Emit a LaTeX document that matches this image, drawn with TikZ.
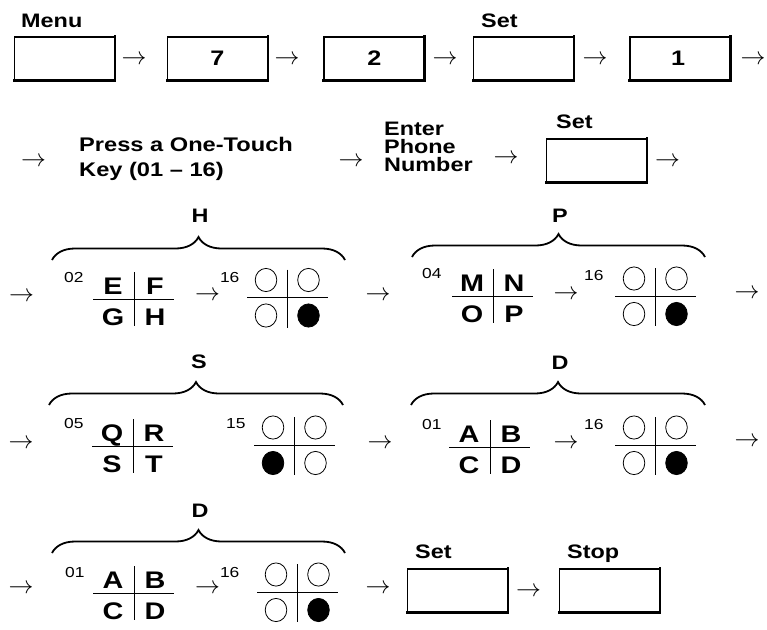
\documentclass[tikz,border=0pt]{standalone}
\usepackage{fontspec}
\setmainfont{Liberation Sans}[FakeStretch=1.2]
\usetikzlibrary{calc,decorations.pathreplacing}

\tikzset{
  lab/.style={inner sep=0pt, font=\fontsize{19.5}{22}\selectfont\bfseries, anchor=base west},
  keytxt/.style={inner sep=0pt, font=\fontsize{21}{24}\selectfont\bfseries, anchor=base},
  supnum/.style={inner sep=0pt, font=\fontsize{14.5}{16}\selectfont, anchor=base west},
  glet/.style={inner sep=0pt, font=\fontsize{24}{26}\selectfont\bfseries, anchor=base},
  arr/.style={inner sep=0pt, font=\fontsize{23.5}{23.5}\selectfont, yshift=-1.5pt},
  keyframe/.style={draw, line width=1.1pt, minimum width=100pt, minimum height=43pt, inner sep=0pt},
  keyedge/.style={line width=2.8pt, line cap=rect},
  gline/.style={line width=0.9pt},
  ring/.style={draw, line width=0.8pt, fill=white},
  dot/.style={draw, line width=0.8pt, fill=black},
  bracestyle/.style={decorate, decoration={brace, amplitude=23pt}, line width=1.8pt},
  bracelab/.style={inner sep=0pt, font=\fontsize{19.5}{22}\selectfont\bfseries, anchor=base},
}

\newcommand\KeyBox[3]{%
  \node[keyframe] (#1) at (#2,#3) {};
  \draw[keyedge] (#1.north east) -- (#1.south east) -- (#1.south west);
}
\newcommand\LGrid[7]{%
  \coordinate (#1) at (#2,#3);
  \draw[gline] ($(#1)+(-41,0)$) -- ($(#1)+(40,0)$);
  \draw[gline] ($(#1)+(0,-27)$) -- ($(#1)+(0,27)$);
  \node[glet] (#1-a) at ($(#1)+(-21,-5)$) {#4};
  \node[glet] (#1-b) at ($(#1)+(21,-5)$) {#5};
  \node[glet] (#1-c) at ($(#1)+(-21,26)$) {#6};
  \node[glet] (#1-d) at ($(#1)+(21,26)$) {#7};
}
\newcommand\CGrid[7]{%
  \coordinate (#1) at (#2,#3);
  \draw[gline] ($(#1)+(-40,0)$) -- ($(#1)+(41,0)$);
  \draw[gline] ($(#1)+(0,-28)$) -- ($(#1)+(0,30)$);
  \draw[#4] ($(#1)+(-21,-17.5)$) ellipse [x radius=10.8pt, y radius=11.6pt];
  \draw[#5] ($(#1)+(21.5,-17.5)$) ellipse [x radius=10.8pt, y radius=11.6pt];
  \draw[#6] ($(#1)+(-21,18)$) ellipse [x radius=10.8pt, y radius=11.6pt];
  \draw[#7] ($(#1)+(21.5,18)$) ellipse [x radius=10.8pt, y radius=11.6pt];
}

\begin{document}
\begin{tikzpicture}[x=1pt,y=-1pt]
\fill[white] (0,0) rectangle (767,629);
\useasboundingbox (0,0) rectangle (767,629);

% ---- Row 1
\node[lab] (menu) at (21,27) {Menu};
\KeyBox{k1}{64.5}{58.5}
\node[arr] (a11) at (134,58) {$\rightarrow$};
\KeyBox{k2}{217.5}{58.5}
\node[keytxt] (k2t) at (217.5,65) {7};
\node[arr] (a12) at (287,58) {$\rightarrow$};
\KeyBox{k3}{374}{58.5}
\node[keytxt] (k3t) at (374.5,65) {2};
\node[arr] (a13) at (445,58) {$\rightarrow$};
\node[lab] (set1) at (481,27) {Set};
\KeyBox{k4}{523.5}{58.5}
\node[arr] (a14) at (595,58) {$\rightarrow$};
\KeyBox{k5}{680}{58.5}
\node[keytxt] (k5t) at (678,65) {1};
\node[arr] (a15) at (753,58) {$\rightarrow$};

% ---- Row 2
\node[arr] (a21) at (33.5,160) {$\rightarrow$};
\node[lab, font=\fontsize{19.7}{22}\selectfont\bfseries] (press1) at (79,151) {Press a One-Touch};
\node[lab, font=\fontsize{19.7}{22}\selectfont\bfseries] (press2) at (79,176) {Key (01 – 16)};
\node[arr] (a22) at (351,160) {$\rightarrow$};
\node[lab] (enter1) at (384,135) {Enter};
\node[lab] (enter2) at (384,153.3) {Phone};
\node[lab] (enter3) at (384,171.7) {Number};
\node[arr] (a23) at (506,157) {$\rightarrow$};
\node[lab] (set2) at (556,128) {Set};
\KeyBox{k6}{596.5}{160.5}
\node[arr] (a24) at (667.5,160) {$\rightarrow$};

% ---- Row 3
\node[arr] (a31) at (21.5,295) {$\rightarrow$};
\draw[bracestyle] (52,260) -- (345,260);
\node[bracelab] (bH) at (200,222) {H};
\node[supnum] (n02) at (64,282) {02};
\LGrid{G1}{134}{299}{E}{F}{G}{H}
\node[arr] (a32) at (207.5,294) {$\rightarrow$};
\node[supnum] (n16a) at (219.8,282) {16};
\CGrid{C1}{287}{297.5}{ring}{ring}{ring}{dot}
\node[arr] (a33) at (378,294) {$\rightarrow$};
\draw[bracestyle] (412,257) -- (705,257);
\node[bracelab] (bP) at (560,222) {P};
\node[supnum] (n04) at (422,278) {04};
\LGrid{G2}{493}{296}{M}{N}{O}{P}
\node[arr] (a34) at (566,293) {$\rightarrow$};
\node[supnum] (n16b) at (584,280) {16};
\CGrid{C2}{655}{296}{ring}{ring}{ring}{dot}
\node[arr] (a35) at (747,292) {$\rightarrow$};

% ---- Row 4
\node[arr] (a41) at (21,442) {$\rightarrow$};
\draw[bracestyle] (49,405) -- (343,405);
\node[bracelab] (bS) at (199,368) {S};
\node[supnum] (n05) at (64,428) {05};
\LGrid{G3}{133}{446}{Q}{R}{S}{T}
\node[supnum] (n15) at (226,428) {15};
\CGrid{C3}{294}{445}{ring}{ring}{dot}{ring}
\node[arr] (a42) at (380,442) {$\rightarrow$};
\draw[bracestyle] (411,405) -- (705,405);
\node[bracelab] (bD1) at (560,369) {D};
\node[supnum] (n01a) at (422,429) {01};
\LGrid{G4}{490}{447}{A}{B}{C}{D}
\node[arr] (a43) at (566,442) {$\rightarrow$};
\node[supnum] (n16c) at (584,429) {16};
\CGrid{C4}{655}{445}{ring}{ring}{ring}{dot}
\node[arr] (a44) at (747,440) {$\rightarrow$};

% ---- Row 5
\node[arr] (a51) at (21,587) {$\rightarrow$};
\draw[bracestyle] (52,553) -- (345,553);
\node[bracelab] (bD2) at (200,517) {D};
\node[supnum] (n01b) at (65,577) {01};
\LGrid{G5}{134}{593}{A}{B}{C}{D}
\node[arr] (a52) at (207.5,587) {$\rightarrow$};
\node[supnum] (n16d) at (219.8,577) {16};
\CGrid{C5}{297}{592}{ring}{ring}{ring}{dot}
\node[arr] (a53) at (378,587) {$\rightarrow$};
\node[lab] (set3) at (415,558) {Set};
\KeyBox{k7}{457.5}{590.5}
\node[arr] (a54) at (528.5,590) {$\rightarrow$};
\node[lab] (stop) at (567,558) {Stop};
\KeyBox{k8}{609.5}{590.5}
\end{tikzpicture}
\end{document}
